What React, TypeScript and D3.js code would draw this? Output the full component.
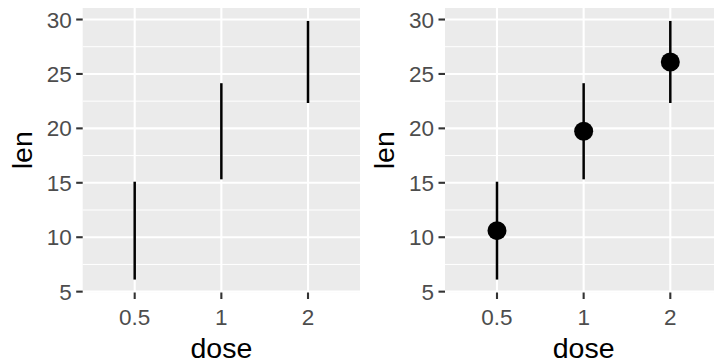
import React from "react";
import * as d3 from "d3";

const doses = ["0.5", "1", "2"];
const means = [10.605, 19.735, 26.1];
const lower = [6.11, 15.32, 22.33];
const upper = [15.1, 24.15, 29.87];
const yTicks = [5, 10, 15, 20, 25, 30];
const yMinor = [7.5, 12.5, 17.5, 22.5, 27.5];

const W = 714;
const H = 362;
const panelW = 277.3;
const top = 8;
const bottom = 292.5;
const FONT = "'Liberation Sans', Arial, Helvetica, sans-serif";

function Panel({ left, showPoints }: { left: number; showPoints: boolean }) {
  const lo = d3.min(lower)!;
  const hi = d3.max(upper)!;
  const r = hi - lo;
  const y = d3.scaleLinear().domain([lo - 0.05 * r, hi + 0.05 * r]).range([bottom, top]);
  const x = d3.scalePoint<string>().domain(doses).range([left, left + panelW]).padding(0.6);
  const cx = left + panelW / 2;
  return (
    <g>
      <rect x={left} y={top} width={panelW} height={bottom - top} fill="#EBEBEB" />
      {yMinor.map((v) => (
        <line key={"m" + v} x1={left} x2={left + panelW} y1={y(v)} y2={y(v)} stroke="#fff" strokeWidth={1} />
      ))}
      {yTicks.map((v) => (
        <line key={"g" + v} x1={left} x2={left + panelW} y1={y(v)} y2={y(v)} stroke="#fff" strokeWidth={2.1} />
      ))}
      {doses.map((d) => (
        <line key={"gx" + d} x1={x(d)} x2={x(d)} y1={top} y2={bottom} stroke="#fff" strokeWidth={2.1} />
      ))}
      {doses.map((d, i) => (
        <line key={"e" + d} x1={x(d)} x2={x(d)} y1={y(lower[i])} y2={y(upper[i])} stroke="#000" strokeWidth={2.5} />
      ))}
      {showPoints &&
        doses.map((d, i) => <circle key={"p" + d} cx={x(d)} cy={y(means[i])} r={9.5} fill="#000" />)}
      {yTicks.map((v) => (
        <g key={"t" + v}>
          <line x1={left - 6.5} x2={left} y1={y(v)} y2={y(v)} stroke="#333333" strokeWidth={2.1} />
          <text
            x={left - 11}
            y={y(v)}
            dy="0.36em"
            textAnchor="end"
            fontSize={22.5}
            fill="#4D4D4D"
            fontFamily={FONT}
          >
            {v}
          </text>
        </g>
      ))}
      {doses.map((d) => (
        <g key={"tx" + d}>
          <line x1={x(d)} x2={x(d)} y1={bottom} y2={bottom + 6.5} stroke="#333333" strokeWidth={2.1} />
          <text x={x(d)} y={325} textAnchor="middle" fontSize={22.5} fill="#4D4D4D" fontFamily={FONT}>
            {d}
          </text>
        </g>
      ))}
      <text x={cx} y={358} textAnchor="middle" fontSize={28.5} fill="#000" fontFamily={FONT}>
        dose
      </text>
      <text
        transform={`translate(${left - 51},${(top + bottom) / 2}) rotate(-90)`}
        textAnchor="middle"
        fontSize={28.5}
        fill="#000"
        fontFamily={FONT}
      >
        len
      </text>
    </g>
  );
}

export default function App() {
  return (
    <svg
      width={W}
      height={H}
      style={{ position: "absolute", left: 0, top: 0, background: "#fff", overflow: "hidden" }}
    >
      <rect width={W} height={H} fill="#fff" />
      <Panel left={82.7} showPoints={false} />
      <Panel left={445} showPoints={true} />
    </svg>
  );
}
